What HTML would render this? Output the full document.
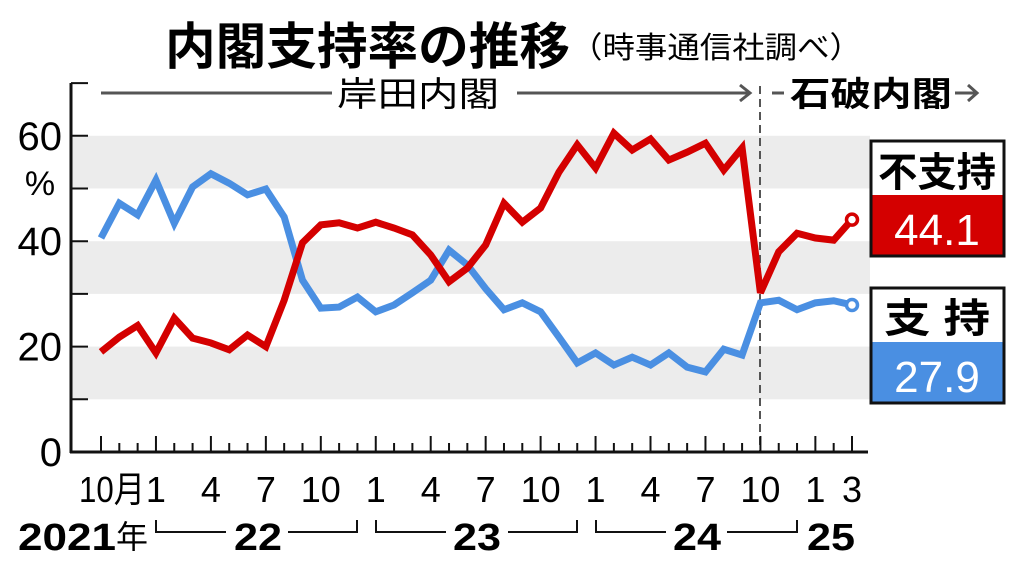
<!DOCTYPE html>
<html><head><meta charset="utf-8">
<style>
html,body{margin:0;padding:0;background:#fff;}
svg{display:block;}
text{font-family:"Liberation Sans","Noto Sans CJK JP",sans-serif;}
</style></head>
<body>
<svg id="chart" width="1024" height="562" viewBox="0 0 1024 562" xmlns="http://www.w3.org/2000/svg">
<g id="bands"></g>
<text x="165" y="64" font-size="50" font-weight="bold" textLength="405" lengthAdjust="spacingAndGlyphs">内閣支持率の推移</text>
<text x="570" y="58" font-size="30" textLength="292" lengthAdjust="spacingAndGlyphs">（時事通信社調べ）</text>
<g>
<line x1="101" y1="93" x2="332" y2="93" stroke="#555" stroke-width="3"/>
<text x="337" y="106" font-size="34" textLength="162" lengthAdjust="spacingAndGlyphs">岸田内閣</text>
<line x1="517" y1="93" x2="748" y2="93" stroke="#555" stroke-width="3"/>
<polyline points="740,85 750,93 740,101" fill="none" stroke="#555" stroke-width="3"/>
</g>
<g>
<line x1="772" y1="93" x2="784" y2="93" stroke="#555" stroke-width="3"/>
<text x="790" y="106" font-size="34" font-weight="bold" textLength="162" lengthAdjust="spacingAndGlyphs">石破内閣</text>
<line x1="955" y1="93" x2="976" y2="93" stroke="#555" stroke-width="3"/>
<polyline points="968,85 977,93 968,101" fill="none" stroke="#555" stroke-width="3"/>
</g>
<line x1="760" y1="86" x2="760" y2="452" stroke="#555" stroke-width="2" stroke-dasharray="8,5"/>
<g id="axes"></g>
<g id="series"></g>
<text x="40" y="195" font-size="34" text-anchor="middle">%</text>
<g font-size="38" font-weight="bold">
<text x="18" y="550" textLength="98" lengthAdjust="spacingAndGlyphs">2021</text>
<text x="116" y="548" font-size="32" font-weight="normal">年</text>
<polyline points="156,520 156,532 226,532" fill="none" stroke="#111" stroke-width="2"/>
<text x="234" y="550" textLength="48" lengthAdjust="spacingAndGlyphs">22</text>
<polyline points="288,532 357,532 357,520" fill="none" stroke="#111" stroke-width="2"/>
<polyline points="376,520 376,532 446,532" fill="none" stroke="#111" stroke-width="2"/>
<text x="453" y="550" textLength="48" lengthAdjust="spacingAndGlyphs">23</text>
<polyline points="508,532 577,532 577,520" fill="none" stroke="#111" stroke-width="2"/>
<polyline points="596,520 596,532 666,532" fill="none" stroke="#111" stroke-width="2"/>
<text x="673" y="550" textLength="48" lengthAdjust="spacingAndGlyphs">24</text>
<polyline points="727,532 797,532 797,520" fill="none" stroke="#111" stroke-width="2"/>
<text x="807" y="550" textLength="48" lengthAdjust="spacingAndGlyphs">25</text>
</g>
<g>
<rect x="871" y="141" width="133" height="115" fill="#fff" stroke="#111" stroke-width="3"/>
<rect x="872.5" y="195" width="130" height="59.5" fill="#d40000"/>
<text x="937" y="186" font-size="40" font-weight="bold" text-anchor="middle" textLength="118" lengthAdjust="spacingAndGlyphs">不支持</text>
<text x="937" y="245" font-size="44" fill="#fff" text-anchor="middle">44.1</text>
</g>
<g>
<rect x="871" y="288" width="133" height="115" fill="#fff" stroke="#111" stroke-width="3"/>
<rect x="872.5" y="342" width="130" height="59.5" fill="#4a8fe2"/>
<text x="937" y="332" font-size="40" font-weight="bold" text-anchor="middle" textLength="106" lengthAdjust="spacingAndGlyphs">支 持</text>
<text x="937" y="392" font-size="44" fill="#fff" text-anchor="middle">27.9</text>
</g>
</svg>
<script>
const months = 42; // Oct 2021 .. Mar 2025
const approve = [40.6,47.2,45,51.6,43.4,50.3,52.8,51,48.8,49.9,44.6,32.6,27.3,27.5,29.4,26.6,27.9,30.2,32.6,38.3,35.5,31,27,28.3,26.6,21.8,16.9,18.8,16.5,18,16.5,18.8,16.1,15.2,19.5,18.4,28.3,28.8,27,28.3,28.7,27.9];
const disapprove = [19,21.8,24,18.8,25.4,21.6,20.7,19.4,22.2,20,28.8,39.7,43.1,43.5,42.5,43.6,42.5,41.2,37.4,32.3,34.9,39.3,47.2,43.6,46.3,53.1,58.3,53.9,60.5,57.3,59.4,55.4,56.9,58.6,53.5,57.7,30.2,38,41.5,40.6,40.2,44.1];
const yTickLabels = ["0","20","40","60"];
const yTickValues = [0,20,40,60];
const xLabelIdx = [0,3,6,9,12,15,18,21,24,27,30,33,36,39,41];
const xLabelText = ["10月","1","4","7","10","1","4","7","10","1","4","7","10","1","3"];
const bandsFrom = [10,30,50];

const NS="http://www.w3.org/2000/svg";
const X = i => 101 + i*(751/41);
const Y = v => 452 - v*5.27;
function mk(tag, attrs, parent){const e=document.createElementNS(NS,tag);for(const k in attrs)e.setAttribute(k,attrs[k]);parent.appendChild(e);return e;}
const bands=document.getElementById('bands'), axes=document.getElementById('axes'), series=document.getElementById('series');
bandsFrom.forEach(b=>{
  const r=mk('rect',{x:72,y:Y(b+10),width:798,height:Y(b)-Y(b+10),fill:'#ececec'},bands);
  
  
});
mk('line',{x1:71,y1:83,x2:71,y2:453,stroke:'#111','stroke-width':3},axes);
mk('line',{x1:70,y1:452,x2:868,y2:452,stroke:'#111','stroke-width':3},axes);
for(let v=10;v<=70;v+=10) mk('line',{x1:71,y1:Y(v),x2:88,y2:Y(v),stroke:'#111','stroke-width':2},axes);
yTickValues.forEach((v,i)=>{
  const t=mk('text',{x:62,y:Y(v)+14,'font-size':40,'text-anchor':'end'},axes);
  
  
  t.textContent=yTickLabels[i];
});
for(let i=0;i<months;i++){
  const major=(i%3===0)||i===41;
  mk('line',{x1:X(i),y1:major?436:443,x2:X(i),y2:452,stroke:'#111','stroke-width':2},axes);
}
xLabelIdx.forEach((idx,i)=>{
  const x=X(idx);
  const txt=xLabelText[i];
  const attrs={x:x,y:502,'font-size':36,'text-anchor':'middle'};
  if(txt==="10月"){attrs.x=x+11;attrs.textLength=66;attrs.lengthAdjust='spacingAndGlyphs';}
  const t=mk('text',attrs,axes);
  
  
  t.textContent=txt;
});
function drawLine(vals,color,name){
  const p=mk('polyline',{points:vals.map((v,i)=>X(i)+','+Y(v)).join(' '),fill:'none',stroke:color,'stroke-width':7,'stroke-linejoin':'miter','stroke-miterlimit':3},series);
  
  
  const n=vals.length-1;
  const c=mk('circle',{cx:X(n),cy:Y(vals[n]),r:5.5,fill:'#fff',stroke:color,'stroke-width':3.5},series);
  
  
}
drawLine(approve,'#4a8fe2','approve');
drawLine(disapprove,'#d40000','disapprove');
</script>
</body></html>
